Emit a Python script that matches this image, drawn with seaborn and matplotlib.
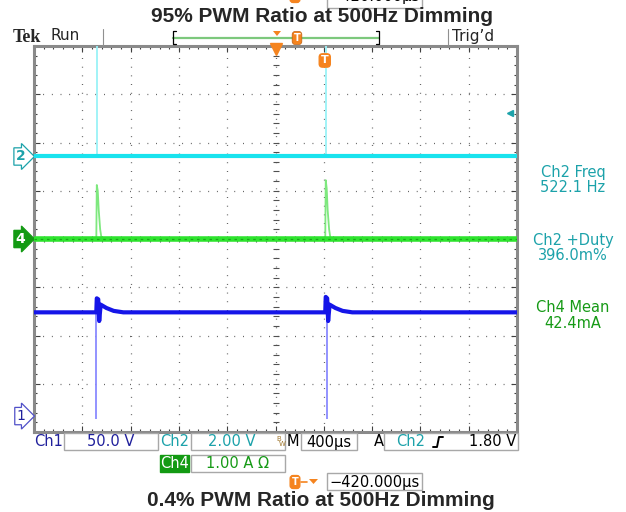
import numpy as np
import matplotlib.pyplot as plt
import seaborn as sns
from matplotlib.patches import Rectangle, Polygon
from matplotlib.lines import Line2D

# Scope capture data, in screen divisions (10 x 8, centre = 0)
pulse_t = [1.30, 6.04]          # Ch2 pulse positions
ch2_level = 1.71
ch2_top = 4.2

ch4_level = 0.0
ch4_t = [0.0, 1.29, 1.30, 1.32, 1.34, 1.37, 1.40, 6.03, 6.04, 6.06, 6.08, 6.11, 6.14, 10.0]
ch4_v = [0.0, 0.0, 1.12, 1.00, 0.60, 0.20, 0.0, 0.0, 1.22, 1.05, 0.60, 0.20, 0.0, 0.0]

ch1_level = -1.52
ch1_t = [0.0, 1.29, 1.30, 1.33, 1.35, 1.38, 1.50, 1.65, 1.85,
         6.03, 6.04, 6.07, 6.09, 6.12, 6.24, 6.39, 6.59, 10.0]
ch1_v = [-1.52, -1.52, -1.23, -1.25, -1.70, -1.36, -1.43, -1.49, -1.52,
         -1.52, -1.20, -1.23, -1.70, -1.36, -1.43, -1.49, -1.52, -1.52]
ch1_dip_t = [1.29, 6.06]
ch1_dip = -3.73
ch1_gnd = -3.67
trig_level = 2.61

meas_labels = ['Ch2 Freq', '522.1 Hz', 'Ch2 +Duty', '396.0m%', 'Ch4 Mean', '42.4mA']

CYAN = '#19e3ee'
GREEN = '#2ee42e'
BLUE = '#1515e8'
TEAL = '#1ca2aa'
DGREEN = '#169a16'
DBLUE = '#20209c'
ORANGE = '#f5841f'

sns.set_theme(style='white')
plt.rcParams['font.family'] = ['DejaVu Sans']

W, H = 626, 512
fig = plt.figure(figsize=(W / 100, H / 100), dpi=100)
fig.set_facecolor('white')

def fx(px):
    return px / W

def fy(py):
    return 1 - py / H

ax = fig.add_axes([fx(34), fy(432), fx(517) - fx(34), fy(46) - fy(432)])
ax.set_xlim(0, 10)
ax.set_ylim(-4, 4)

# graticule
ax.set_xticks(np.arange(0, 11, 1))
ax.set_yticks(np.arange(-4, 5, 1))
ax.set_xticks(np.arange(0, 10.01, 0.2), minor=True)
ax.set_yticks(np.arange(-4, 4.01, 0.2), minor=True)
ax.set_xticklabels([])
ax.set_yticklabels([])
ax.tick_params(which='both', direction='in', top=True, right=True, bottom=True, left=True,
               color='#404040', width=0.8)
ax.tick_params(which='major', length=4)
ax.tick_params(which='minor', length=2.5)
ax.grid(True, which='major', color='#505050', linestyle=(0, (0.7, 6.25)), linewidth=0.9)
for s in ax.spines.values():
    s.set_color('#8a8a8a')
    s.set_linewidth(2.2)
ax.plot(np.arange(0, 10.01, 0.2), np.zeros(51), ls='none', marker='|', ms=4,
        color='#505050', mew=0.8)
ax.plot(np.full(41, 5.0), np.arange(-4, 4.01, 0.2), ls='none', marker='_', ms=4,
        color='#505050', mew=0.8)

# Ch2 (cyan)
ax.vlines(pulse_t, ch2_level, ch2_top, color='#9af2f7', lw=1.3, zorder=3)
sns.lineplot(x=[0, 10], y=[ch2_level, ch2_level], ax=ax, color=CYAN, lw=3.0, zorder=4)

# Ch4 (green)
sns.lineplot(x=ch4_t, y=ch4_v, ax=ax, color='#7ee87e', lw=1.3, estimator=None, sort=False, zorder=3)
sns.lineplot(x=[0, 10], y=[ch4_level, ch4_level], ax=ax, color=GREEN, lw=4.0, zorder=4)
sns.lineplot(x=[0, 10], y=[ch4_level, ch4_level], ax=ax, color='#17a817', lw=0.9,
             zorder=5, linestyle=(0, (2, 3)))

# Ch1 (blue)
ax.vlines(ch1_dip_t, ch1_dip, ch1_level, color='#8a8aff', lw=1.3, zorder=3)
sns.lineplot(x=ch1_t, y=ch1_v, ax=ax, color=BLUE, lw=3.0, estimator=None, sort=False, zorder=4)

# channel markers on left edge
tr = ax.get_yaxis_transform()
ax.text(-0.018, ch2_level, '2', transform=tr, ha='right', va='center', color=TEAL,
        fontsize=10, fontweight='bold',
        bbox=dict(boxstyle='rarrow,pad=0.12', fc='white', ec=TEAL, lw=0.9), clip_on=False)
ax.text(-0.018, ch4_level, '4', transform=tr, ha='right', va='center', color='white',
        fontsize=10, fontweight='bold',
        bbox=dict(boxstyle='rarrow,pad=0.12', fc='#139a13', ec='#139a13', lw=0.9), clip_on=False)
ax.text(-0.018, ch1_gnd, '1', transform=tr, ha='right', va='center', color=DBLUE,
        fontsize=10,
        bbox=dict(boxstyle='rarrow,pad=0.12', fc='white', ec='#5050c8', lw=0.9), clip_on=False)
ax.plot([0.985], [trig_level], transform=tr, marker='<', ms=5, color=TEAL, clip_on=False)

# trigger markers at top of graticule
ax.plot([5.0], [3.93], marker='v', ms=8, color=ORANGE, clip_on=False, zorder=6)
ax.text(pulse_t[1] - 0.02, 3.7, 'T', ha='center', va='center', color='white', fontsize=8,
        fontweight='bold', zorder=6,
        bbox=dict(boxstyle='round,pad=0.15,rounding_size=0.3', fc=ORANGE, ec=ORANGE))

# right side measurements
ys = [172, 187, 240, 255, 308, 323]
cols = [TEAL, TEAL, TEAL, TEAL, DGREEN, DGREEN]
for lab, y, c in zip(meas_labels, ys, cols):
    fig.text(fx(573), fy(y), lab, ha='center', va='center', color=c, fontsize=10.5)

# header
fig.text(fx(13), fy(37), 'Tek', ha='left', va='center', fontsize=13, fontweight='bold',
         family='Liberation Serif')
fig.text(fx(50), fy(36), 'Run', ha='left', va='center', fontsize=11)
fig.text(fx(452), fy(36), "Trig\u2019d", ha='left', va='center', fontsize=11)
for xp in [103, 448]:
    fig.add_artist(Line2D([fx(xp), fx(xp)], [fy(29), fy(45)], color='#909090', lw=0.8))
fig.add_artist(Line2D([fx(173), fx(379)], [fy(37.5), fy(37.5)], color='#7cc87c', lw=1.6))
for xp, d in [(173, 1), (379, -1)]:
    fig.add_artist(Line2D([fx(xp + 3 * d), fx(xp), fx(xp), fx(xp + 3 * d)],
                          [fy(31), fy(31), fy(44), fy(44)], color='black', lw=0.9))
fig.add_artist(Polygon([[fx(273), fy(31)], [fx(281), fy(31)], [fx(277), fy(36)]],
                       closed=True, fc=ORANGE, ec='none', transform=fig.transFigure))
fig.text(fx(297), fy(38), 'T', ha='center', va='center', color='white', fontsize=7,
         fontweight='bold',
         bbox=dict(boxstyle='round,pad=0.15,rounding_size=0.3', fc=ORANGE, ec='#c06010', lw=0.5))

# titles
fig.text(fx(322), fy(17), '95% PWM Ratio at 500Hz Dimming', ha='center', va='center',
         fontsize=15, fontweight='bold', family='Liberation Sans')
fig.text(fx(321), fy(500), '0.4% PWM Ratio at 500Hz Dimming', ha='center', va='center',
         fontsize=15, fontweight='bold', family='Liberation Sans')

# bottom readout boxes
def box(x0, x1, y0, y1, fc='white', ec='#a8a8a8'):
    fig.add_artist(Rectangle((fx(x0), fy(y1)), fx(x1) - fx(x0), fy(y0) - fy(y1),
                             transform=fig.transFigure, fc=fc, ec=ec, lw=1.0))

box(64, 158, 433, 450)
box(191, 285, 433, 450)
box(301, 357, 433, 450)
box(384, 518, 433, 450)
box(191, 285, 455, 472)
box(160, 189, 455, 472, fc='#139a13', ec='#139a13')
box(327, 422, 473, 490)
box(327, 422, -9, 8)

r1, r2, r3 = 442, 464, 482
fig.text(fx(34), fy(r1), 'Ch1', ha='left', va='center', color=DBLUE, fontsize=10.5)
fig.text(fx(111), fy(r1), '50.0 V', ha='center', va='center', color=DBLUE, fontsize=10.5)
fig.text(fx(160), fy(r1), 'Ch2', ha='left', va='center', color=TEAL, fontsize=10.5)
fig.text(fx(232), fy(r1), '2.00 V', ha='center', va='center', color=TEAL, fontsize=10.5)
fig.text(fx(279), fy(r1 - 3), 'B', ha='center', va='center', color='#a07830', fontsize=5)
fig.text(fx(282), fy(r1 + 2), 'W', ha='center', va='center', color='#a07830', fontsize=5)
fig.text(fx(287), fy(r1), 'M', ha='left', va='center', color='black', fontsize=10.5)
fig.text(fx(329), fy(r1), '400\u00b5s', ha='center', va='center', color='black', fontsize=10.5)
fig.text(fx(374), fy(r1), 'A', ha='left', va='center', color='black', fontsize=10.5)
fig.text(fx(396), fy(r1), 'Ch2', ha='left', va='center', color=TEAL, fontsize=10.5)
fig.add_artist(Line2D([fx(433), fx(437), fx(439), fx(443)], [fy(447), fy(447), fy(437), fy(437)],
                      color='black', lw=1.4))
fig.text(fx(516), fy(r1), '1.80 V', ha='right', va='center', color='black', fontsize=10.5)
fig.text(fx(174.5), fy(r2), 'Ch4', ha='center', va='center', color='white', fontsize=10.5)
fig.text(fx(238), fy(r2), '1.00 A \u03a9', ha='center', va='center', color=DGREEN, fontsize=10.5)

# time-offset readout (repeated, cut at the top edge as in the capture)
for yy in [r3, -4]:
    fig.text(fx(295), fy(yy), 'T', ha='center', va='center', color='white', fontsize=7,
             fontweight='bold',
             bbox=dict(boxstyle='round,pad=0.15,rounding_size=0.3', fc=ORANGE, ec=ORANGE))
    fig.add_artist(Line2D([fx(301), fx(307)], [fy(yy), fy(yy)], color=ORANGE, lw=1.2))
    fig.add_artist(Polygon([[fx(309), fy(yy - 3)], [fx(318), fy(yy - 3)], [fx(313.5), fy(yy + 2)]],
                           closed=True, fc=ORANGE, ec='none', transform=fig.transFigure))
    fig.text(fx(374.5), fy(yy), '\u2212420.000\u00b5s', ha='center', va='center',
             color='black', fontsize=10.5)

fig.savefig('out.png', dpi=100)
